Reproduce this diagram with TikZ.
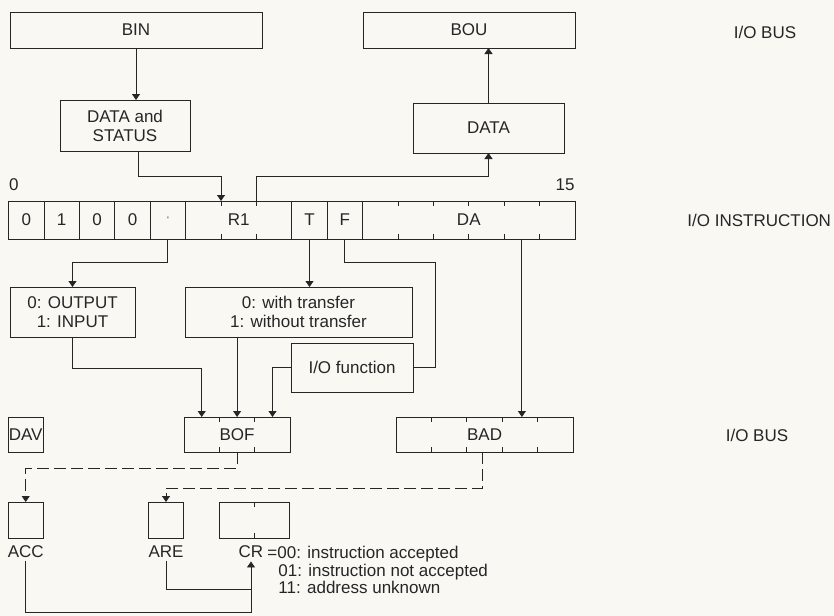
\documentclass[tikz,border=0pt]{standalone}
\usepackage{fontspec}
\setmainfont{Liberation Sans}
\usetikzlibrary{arrows.meta,positioning}
\definecolor{paper}{RGB}{250,248,243}
\definecolor{ink}{RGB}{38,38,38}
\newcommand{\bw}{35.4pt}

\begin{document}
\begin{tikzpicture}[
    x=1pt, y=-1pt,
    font=\fontsize{17}{19}\selectfont,
    line width=0.9pt, color=ink,
    box/.style={draw, align=center, inner sep=0pt, outer sep=0pt},
    field/.style={draw, inner sep=0pt, outer sep=0pt, minimum height=38pt, minimum width=\bw},
    reg/.style={draw, inner sep=0pt, outer sep=0pt, minimum height=35pt},
    lbl/.style={inner sep=3pt},
    arr/.style={-{Triangle[length=6pt,width=8pt]}},
    dsh/.style={dash pattern=on 12pt off 5pt},
]
% Paper
\fill[paper] (0,0) rectangle (834,616);

% I/O bus, top
\node[box, minimum width=252pt, minimum height=36pt] (bin) at (136,30) {BIN};
\node[box, minimum width=212pt, minimum height=36pt] (bou) at (469,30) {BOU};
\node[box, minimum width=130pt, minimum height=51pt] (ds) at (125,125.5) {DATA and\\ STATUS};
\node[box, minimum width=151pt, minimum height=50pt] (data) at (488.5,128) {DATA};

% Instruction word
\node[field] (b0) at (26.3,220) {0};
\node[field, right=0pt of b0] (b1) {1};
\node[field, right=0pt of b1] (b2) {0};
\node[field, right=0pt of b2] (b3) {0};
\node[field, right=0pt of b3, text=gray!80] (bdot) {·};
\node[field, right=0pt of bdot, minimum width=3*\bw] (r1) {R1};
\node[field, right=0pt of r1] (t) {T};
\node[field, right=0pt of t] (f) {F};
\node[field, right=0pt of f, minimum width=6*\bw] (da) {DA};
\node[lbl, anchor=west, inner sep=0pt] (bitlo) at (b0.west |- 0,185) {0};
\node[lbl, anchor=east, inner sep=0pt] (bithi) at (da.east |- 0,185) {15};

% Decoded fields
\node[box, minimum width=125pt, minimum height=50pt] (out) at (72.5,312) {0: OUTPUT\\ 1: INPUT};
\node[box, minimum width=227pt, minimum height=50pt] (trans) at (298.5,312) {0: with transfer\\ 1: without transfer};
\node[box, minimum width=122pt, minimum height=49pt] (iofn) at (352,367.5) {I/O function};

% I/O bus, bottom
\node[reg, minimum width=\bw] (dav) at (25.7,434.5) {DAV};
\node[reg, minimum width=3*\bw] (bof) at (237.1,434.5) {BOF};
\node[reg, minimum width=5*\bw] (bad) at (484.6,434.5) {BAD};

% Flags
\node[reg, minimum width=\bw, minimum height=36pt] (acc) at (25.7,520) {};
\node[reg, minimum width=\bw, minimum height=36pt] (are) at (166,520) {};
\node[reg, minimum width=2*\bw, minimum height=36pt] (cr) at (254.4,520) {};
\node[lbl] (accl) at (acc |- 0,552) {ACC};
\node[lbl] (arel) at (are |- 0,552) {ARE};
\node[lbl] (crl) at (251,552) {CR};
\node[anchor=north west, align=left, inner sep=0pt, font=\fontsize{17}{17.5}\selectfont] (codes) at (278,546)
  {\hspace*{-11pt}=00: instruction accepted\\ 01: instruction not accepted\\ 11: address unknown};

% Side labels
\node[lbl] (busa) at (765,32) {I/O BUS};
\node[lbl, anchor=west] (instr) at (684,220) {I/O INSTRUCTION};
\node[lbl] (busb) at (757,435) {I/O BUS};

% Bit ticks
\foreach \n/\k in {r1/1, r1/2, da/1, da/2, da/3, da/4, da/5, bof/1, bof/2, bad/1, bad/2, bad/3, bad/4, cr/1} {
  \draw ([xshift=\k*\bw]\n.north west) -- ++(0,5);
  \draw ([xshift=\k*\bw]\n.south west) -- ++(0,-5);
}

% Data paths
\draw[arr] (bin.south) -- (bin.south |- ds.north);
\draw[arr] ([xshift=13pt]ds.south) -- ++(0,25) -| ([xshift=\bw]r1.north west);
\draw[arr] ([xshift=2*\bw]r1.north west) -- ++(0,-25) -| (data.south);
\draw[arr] (data.north) -- (data.north |- bou.south);

% Decoding
\draw[arr] (bdot.south) -- ++(0,23) -| (out.north);
\draw[arr] (t.south) -- (t.south |- trans.north);
\draw (f.south) -- ++(0,23) -| ([xshift=22pt]iofn.east) -- (iofn.east);
\draw[arr] ([xshift=-1.5*\bw]da.south east) -- ([xshift=-1.5*\bw]da.south east |- bad.north);
\draw[arr] (out.south) -- ++(0,31) -| ([xshift=-\bw]bof.north);
\draw[arr] (bof.north |- trans.south) -- (bof.north);
\draw[arr] (iofn.west) -| ([xshift=\bw]bof.north);

% Handshake
\draw[arr, dsh] (bof.south) -- ++(0,16) -| (acc.north);
\draw[arr, dsh] ([xshift=-2.5pt]bad.south) -- ++(0,36) -| (are.north);
\draw[arr] (accl.south) -- ++(0,51) -| (crl.south);
\draw (arel.south) |- ([yshift=-28pt]crl.south);
\end{tikzpicture}
\end{document}
